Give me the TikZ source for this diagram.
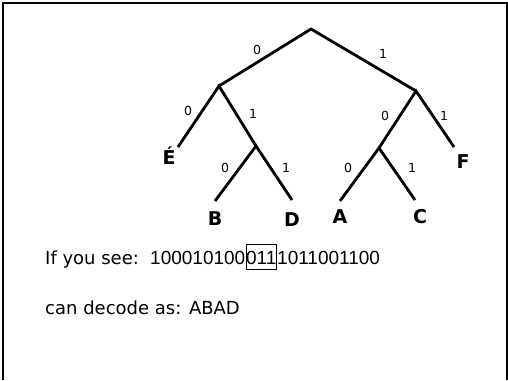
\documentclass[tikz,border=0pt]{standalone}
\usepackage{fontspec}
\setmainfont{DejaVu Sans}
\newfontfamily\digitfont{Liberation Sans}
\begin{document}
\begin{tikzpicture}[x=1pt,y=-1pt,
  branch/.style={line width=2.8pt},
  leaf/.style={font=\fontsize{19}{19}\selectfont\bfseries, inner sep=0pt},
  bit/.style={font=\fontsize{12.5}{12.5}\selectfont, inner sep=0pt},
  txt/.style={font=\fontsize{18}{18}\selectfont, inner sep=0pt, anchor=base west},
  num/.style={font=\digitfont\fontsize{19}{19}\selectfont, inner sep=0pt, anchor=base west},
  frame/.style={line width=2.5pt}]
\useasboundingbox (0,0) rectangle (508,380);
% frame
\draw[frame] (3,380) -- (3,3) -- (506,3);
\draw[line width=1.5pt] (507,2) -- (507,380);
% tree points
\coordinate (root) at (311,29);
\coordinate (L) at (219,86);
\coordinate (R) at (416,91);
\coordinate (LR) at (256,146);
\coordinate (RL) at (379,148);
\coordinate (eE) at (178,147);
\coordinate (eB) at (215,201);
\coordinate (eD) at (292,200);
\coordinate (eA) at (340,201);
\coordinate (eC) at (415,200);
\coordinate (eF) at (454,147);
\draw[branch] (L) -- (root) -- (R);
\draw[branch] (eE) -- (L) -- (LR);
\draw[branch] (eB) -- (LR) -- (eD);
\draw[branch] (RL) -- (R) -- (eF);
\draw[branch] (eA) -- (RL) -- (eC);
% leaf labels
\node[leaf] (lE) at (169,156) {É};
\node[leaf] (lB) at (215,219) {B};
\node[leaf] (lD) at (292,220) {D};
\node[leaf] (lA) at (340,217) {A};
\node[leaf] (lC) at (420,217) {C};
\node[leaf] (lF) at (463,162) {F};
% edge bits
\node[bit] (b1) at (257,50) {0};
\node[bit] (b2) at (383,54) {1};
\node[bit] (b3) at (188,111) {0};
\node[bit] (b4) at (253,114) {1};
\node[bit] (b5) at (385,116) {0};
\node[bit] (b6) at (444,116) {1};
\node[bit] (b7) at (225,168) {0};
\node[bit] (b8) at (286,168) {1};
\node[bit] (b9) at (348,168) {0};
\node[bit] (b10) at (412,168) {1};
% text
\node[txt] (see) at (45,264) {If you see:};
\node[num] (pre) at (150,264) {100010100};
\node[num, draw, line width=0.6pt, inner xsep=0.3pt, text height=20pt, text depth=5pt] (box) at (pre.base east) {011};
\node[num] (post) at (box.base east) {1011001100};
\node[txt] (dec) at (45,314) {can decode as: ABAD};
\end{tikzpicture}
\end{document}
